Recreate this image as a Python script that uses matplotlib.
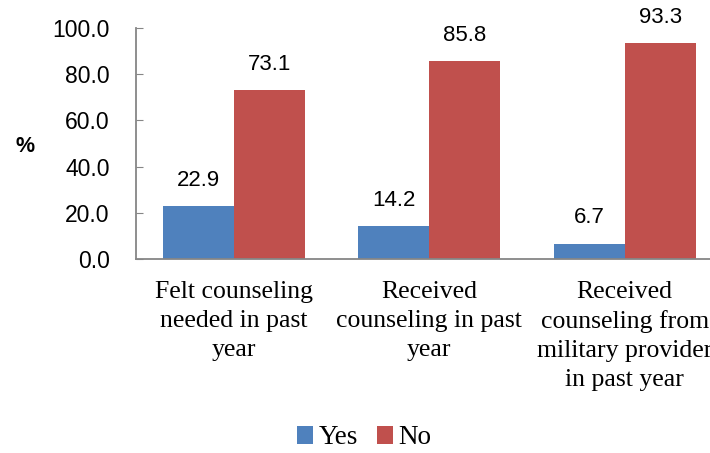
import numpy as np
import matplotlib
matplotlib.use("Agg")
import matplotlib.pyplot as plt

categories = ["Felt counseling\nneeded in past\nyear",
              "Received\ncounseling in past\nyear",
              "Received\ncounseling from\nmilitary provider\nin past year"]
yes_vals = [22.9, 14.2, 6.7]
no_vals = [73.1, 85.8, 93.3]
yticks = [0, 20, 40, 60, 80, 100]

BLUE = "#4F81BD"
RED = "#C0504D"
AXC = "#868686"
SANS = "Liberation Sans"
SERIF = "Liberation Serif"


def main():
    fig = plt.figure(figsize=(7.1, 4.53), dpi=100)
    # axes runs past the right edge, like the cropped original
    ax = fig.add_axes([136 / 710, 1 - 259 / 453, 586.5 / 710, 231 / 453])

    x = np.arange(len(categories))
    w = 0.363
    b1 = ax.bar(x - w / 2, yes_vals, w, color=BLUE, label="Yes")
    b2 = ax.bar(x + w / 2, no_vals, w, color=RED, label="No")

    for bars in (b1, b2):
        for r in bars:
            ax.annotate(f"{r.get_height():.1f}",
                        (r.get_x() + r.get_width() / 2, r.get_height()),
                        xytext=(0, 11), textcoords="offset points",
                        ha="center", va="bottom", fontsize=16, family=SANS)

    ax.set_xlim(-0.5, 2.5)
    ax.set_ylim(0, 100)
    ax.set_yticks(yticks)
    ax.set_yticklabels([f"{v:.1f}" for v in yticks], family=SANS, fontsize=16.5)
    ax.set_xticks(x)
    ax.set_xticklabels(categories, family=SERIF, fontsize=18.5, linespacing=1.4)
    ax.tick_params(axis="x", length=0, pad=16)
    ax.tick_params(axis="y", direction="in", length=5, color=AXC, pad=19)

    for s in ["top", "right"]:
        ax.spines[s].set_visible(False)
    for s in ["left", "bottom"]:
        ax.spines[s].set_color(AXC)
        ax.spines[s].set_linewidth(1.3)

    fig.text(15 / 710, 1 - 146 / 453, "%", family=SANS, fontsize=15.5,
             fontweight="bold", ha="left", va="center")

    fig.legend(handles=[b1, b2], loc="center", bbox_to_anchor=(364 / 710, 1 - 438 / 453),
               ncol=2, frameon=False, prop={"family": SERIF, "size": 19.5},
               handlelength=0.6, handleheight=0.6, handletextpad=0.2, columnspacing=0.7)

    fig.savefig("out.png", dpi=100)


if __name__ == "__main__":
    main()
